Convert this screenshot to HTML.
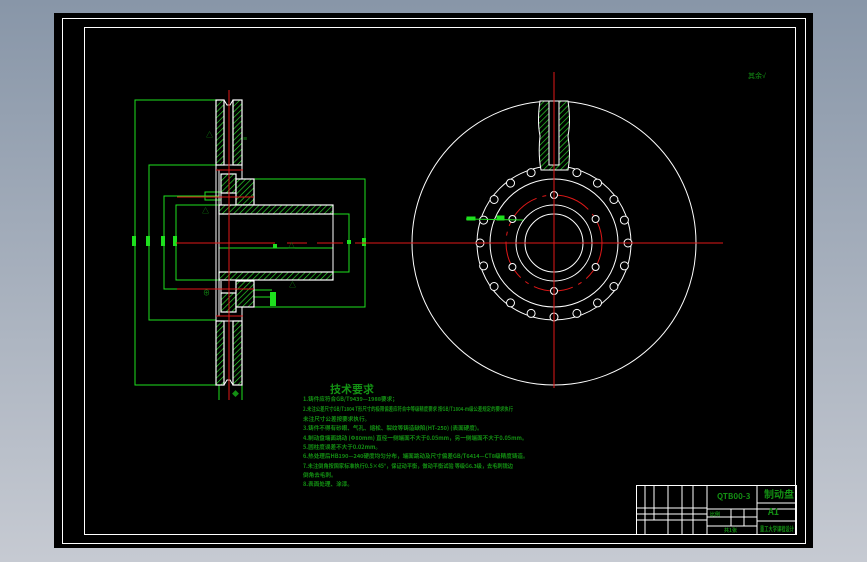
<!DOCTYPE html>
<html><head><meta charset="utf-8"><style>
html,body{margin:0;padding:0}
body{width:867px;height:562px;background:linear-gradient(#8896a8,#c6cad2);overflow:hidden;position:relative;font-family:"Liberation Sans","Noto Sans CJK SC",sans-serif}
svg{position:absolute;left:0;top:0}
</style></head><body>
<svg width="867" height="562" viewBox="0 0 867 562">
<defs>
<pattern id="h" width="4" height="4" patternUnits="userSpaceOnUse" patternTransform="rotate(45)">
<rect width="4" height="4" fill="#000"/><line x1="0" y1="0" x2="0" y2="4" stroke="#2ee02e" stroke-width="1.3"/>
</pattern>
</defs>
<rect x="54" y="13" width="759" height="535" fill="#000"/>
<rect x="62.5" y="18.5" width="743" height="525" fill="none" stroke="#fff" stroke-width="1"/>
<rect x="84.5" y="27.5" width="711" height="507" fill="none" stroke="#fff" stroke-width="1"/>

<!-- LEFT VIEW -->
<g stroke="#1ee01e" stroke-width="1" fill="none">
<polyline points="216,100 135,100 135,385 216,385"/>
<polyline points="216,165 149,165 149,320 216,320"/>
<polyline points="219,196 164,196 164,289 219,289"/>
<polyline points="219,205 176,205 176,280 219,280"/>
<polyline points="254,179 365,179 365,307 254,307"/>
<polyline points="333,214 349,214 349,272 333,272"/>
<line x1="219" y1="248" x2="333" y2="248"/>
<rect x="205" y="192" width="16" height="8"/>
<line x1="241" y1="290" x2="272" y2="290"/><line x1="241" y1="297" x2="270" y2="297"/>
<line x1="219" y1="385" x2="219" y2="400"/><line x1="242" y1="385" x2="242" y2="400"/>
</g>
<g fill="#1ee01e">
<rect x="132" y="236" width="4" height="10"/><rect x="146" y="236" width="4" height="10"/><rect x="161" y="236" width="4" height="10"/><rect x="173" y="236" width="4" height="10"/>
<rect x="362" y="238" width="4" height="8"/><rect x="347" y="240" width="4" height="4"/><rect x="273" y="244" width="4" height="4"/>
<rect x="270" y="292" width="6" height="14"/>
</g>
<g stroke="#fff" stroke-width="1.2" fill="url(#h)">
<rect x="216" y="100" width="8" height="65"/>
<rect x="233" y="100" width="9" height="65"/>
<rect x="216" y="321" width="8" height="64"/>
<rect x="233" y="321" width="9" height="64"/>
<rect x="221" y="174" width="15" height="19"/>
<rect x="236" y="179" width="18" height="26"/>
<rect x="221" y="293" width="15" height="19"/>
<rect x="236" y="281" width="18" height="26"/>
<rect x="219" y="205" width="114" height="9"/>
<rect x="219" y="272" width="114" height="8"/>
</g>
<g stroke="#fff" stroke-width="1" fill="none">
<line x1="216" y1="165" x2="216" y2="321"/><line x1="219" y1="170" x2="219" y2="316"/>
<line x1="242" y1="165" x2="242" y2="179"/><line x1="242" y1="307" x2="242" y2="321"/>
<line x1="224" y1="165" x2="233" y2="165"/><line x1="224" y1="321" x2="233" y2="321"/>
<line x1="221" y1="193" x2="221" y2="205"/><line x1="236" y1="193" x2="236" y2="205"/>
<line x1="221" y1="281" x2="221" y2="293"/><line x1="236" y1="281" x2="236" y2="293"/>
<line x1="333" y1="205" x2="333" y2="280"/>
<line x1="219" y1="214" x2="219" y2="272"/>
<path d="M224,100 l3,5 h3 l3,-5"/><path d="M224,385 l3,-5 h3 l3,5"/>
</g>
<g stroke="#e01818" stroke-width="1">
<line x1="229" y1="90" x2="229" y2="400"/>
<line x1="176" y1="243" x2="275" y2="243"/><line x1="287" y1="243" x2="307" y2="243"/><line x1="317" y1="243" x2="343" y2="243"/>
<line x1="177" y1="197" x2="254" y2="197"/><line x1="177" y1="289" x2="254" y2="289"/>
<line x1="216" y1="170" x2="243" y2="170"/><line x1="216" y1="316" x2="243" y2="316"/>
</g>
<g fill="#139013" font-size="7">
<text x="206" y="137">△</text><text x="243" y="141">≡</text><text x="202" y="213">△</text><text x="288" y="248">△</text><text x="289" y="287">△</text><text x="203" y="295">⊕</text><text x="232" y="396">◆</text>
</g>

<!-- RIGHT VIEW -->
<g stroke="#fff" stroke-width="1" fill="none">
<circle cx="554" cy="243" r="142"/>
<circle cx="554" cy="243" r="77"/>
<circle cx="554" cy="243" r="64"/>
<circle cx="554" cy="243" r="38"/>
<circle cx="554" cy="243" r="29"/>
</g>
<circle cx="554" cy="243" r="48" fill="none" stroke="#e01818" stroke-width="1" stroke-dasharray="40,6,4,6"/>
<g stroke="#fff" stroke-width="1" fill="#000">
<circle cx="628" cy="243" r="4"/><circle cx="624.4" cy="265.9" r="4"/><circle cx="613.9" cy="286.5" r="4"/><circle cx="597.5" cy="302.9" r="4"/><circle cx="576.9" cy="313.4" r="4"/><circle cx="554" cy="317" r="4"/><circle cx="531.1" cy="313.4" r="4"/><circle cx="510.5" cy="302.9" r="4"/><circle cx="494.1" cy="286.5" r="4"/><circle cx="483.6" cy="265.9" r="4"/><circle cx="480" cy="243" r="4"/><circle cx="483.6" cy="220.1" r="4"/><circle cx="494.1" cy="199.5" r="4"/><circle cx="510.5" cy="183.1" r="4"/><circle cx="531.1" cy="172.6" r="4"/><circle cx="576.9" cy="172.6" r="4"/><circle cx="597.5" cy="183.1" r="4"/><circle cx="613.9" cy="199.5" r="4"/><circle cx="624.4" cy="220.1" r="4"/>
<circle cx="554" cy="195" r="3.5"/><circle cx="595.6" cy="219" r="3.5"/><circle cx="595.6" cy="267" r="3.5"/><circle cx="554" cy="291" r="3.5"/><circle cx="512.4" cy="267" r="3.5"/><circle cx="512.4" cy="219" r="3.5"/>
</g>
<path d="M540,101 q-3,20 0,35 q-2,18 1,34 h27 q3,-16 0,-34 q3,-15 0,-35 z" fill="url(#h)" stroke="#fff" stroke-width="1"/>
<rect x="549" y="101" width="10" height="64" fill="#000" stroke="#fff" stroke-width="1"/>
<g stroke="#e01818" stroke-width="1">
<line x1="554" y1="72" x2="554" y2="388"/>
<line x1="355" y1="243" x2="723" y2="243"/>
</g>
<g stroke="#1ee01e" fill="#1ee01e">
<line x1="466" y1="219" x2="523" y2="220"/><rect x="467" y="217" width="8" height="3"/><rect x="497" y="216" width="7" height="4"/>
</g>
<text x="748" y="78" fill="#139013" font-size="7">其余√</text>

<!-- TEXT -->
<g fill="#139013" font-family="'Noto Sans CJK SC',sans-serif">
<text x="330" y="393" font-size="11" font-weight="bold">技术要求</text>
<g font-size="5.6" font-weight="bold">
<text x="303" y="401">1.铸件应符合GB/T9439—1988要求；</text>
<text x="303" y="411" textLength="210" lengthAdjust="spacingAndGlyphs">2.未注公差尺寸GB/T1804 T形尺寸的极限偏差应符合中等级精度要求 按GB/T1804-m级公差规定的要求执行</text>
<text x="303" y="421">未注尺寸公差按要求执行。</text>
<text x="303" y="430">3.铸件不得有砂眼、气孔、缩松、裂纹等铸造缺陷(HT-250) (表面硬度)。</text>
<text x="303" y="440">4.制动盘端面跳动 (Φ80mm) 直径一侧端面不大于0.05mm，另一侧端面不大于0.05mm。</text>
<text x="303" y="449">5.圆柱度误差不大于0.02mm。</text>
<text x="303" y="458">6.热处理后HB190—240硬度均匀分布，端面跳动及尺寸偏差GB/T6414—CT8级精度铸造。</text>
<text x="303" y="468" textLength="210" lengthAdjust="spacingAndGlyphs">7.未注倒角按国家标准执行0.5×45°，保证动平衡，做动平衡试验 等级G6.3级，去毛刺锐边</text>
<text x="303" y="477">倒角去毛刺。</text>
<text x="303" y="486">8.表面处理、涂漆。</text>
</g></g>

<!-- TITLE BLOCK -->
<g stroke="#fff" stroke-width="1" fill="none">
<rect x="636.5" y="485.5" width="160" height="49"/>
<line x1="707" y1="485" x2="707" y2="534"/><line x1="757" y1="485" x2="757" y2="534"/>
<line x1="636" y1="508" x2="707" y2="508"/><line x1="636" y1="514" x2="707" y2="514"/><line x1="636" y1="520" x2="707" y2="520"/>
<line x1="707" y1="509" x2="796" y2="509"/><line x1="707" y1="517" x2="757" y2="517"/><line x1="707" y1="526" x2="757" y2="526"/><line x1="757" y1="503" x2="796" y2="503"/><line x1="757" y1="521" x2="796" y2="521"/>
<line x1="645" y1="485" x2="645" y2="534"/><line x1="654" y1="485" x2="654" y2="520"/><line x1="668" y1="485" x2="668" y2="534"/><line x1="682" y1="485" x2="682" y2="534"/><line x1="693" y1="485" x2="693" y2="534"/>
<line x1="731" y1="509" x2="731" y2="526"/><line x1="744" y1="509" x2="744" y2="526"/>
</g>
<g fill="#139013" font-family="'Noto Sans CJK SC',sans-serif" font-weight="bold">
<text x="717" y="499" font-size="8">QTB00-3</text>
<text x="764" y="498" font-size="10">制动盘</text>
<text x="768" y="515" font-size="9">A1</text>
<text x="760" y="531" font-size="6.5" textLength="34" lengthAdjust="spacingAndGlyphs">重工大学课程设计</text>
<text x="710" y="516" font-size="5">比例</text>
<text x="724" y="532" font-size="5">共1张</text>
</g>
</svg>
</body></html>
